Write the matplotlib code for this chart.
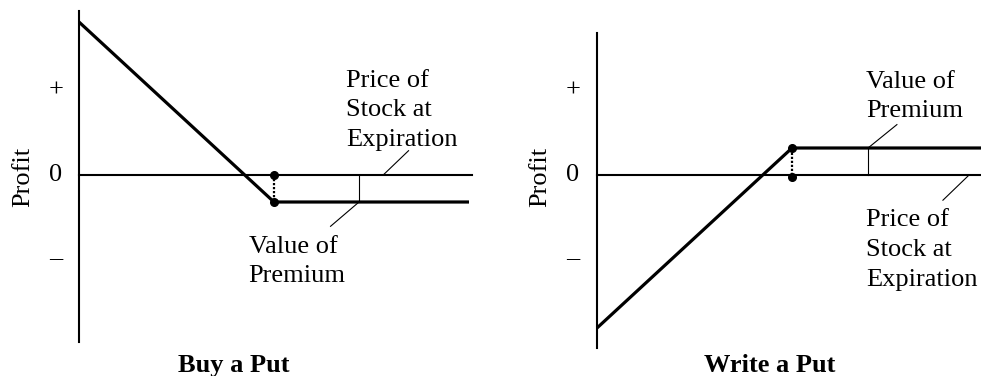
import numpy as np
import matplotlib.pyplot as plt

plt.rcParams['font.family'] = ['Liberation Serif', 'DejaVu Serif']

# stock price at expiration (arbitrary units), strike, premium
price = [0, 10, 20]
strike = 10
premium = 1.5
buy_profit = [strike - premium - p if p < strike else -premium for p in price]
write_profit = [-b for b in buy_profit]

tick_pos = [4.7, 0, -4.6]
tick_txt = ['+', '0', '\u2013']

fig = plt.figure(figsize=(9.81, 3.76), dpi=100)

# pixel -> data mapping: 19.5 px per x unit, 18 px per y unit
sx, sy = 19.5, 18.0
y0 = 175


def make_ax(x_origin):
    ax = fig.add_axes([0, 0, 1, 1])
    ax.set_xlim((0 - x_origin) / sx, (981 - x_origin) / sx)
    ax.set_ylim((y0 - 376) / sy, (y0 - 0) / sy)
    ax.axis('off')
    ax.patch.set_alpha(0)
    return ax


fs = 19
ls_txt = 1.45
lw_axis = 1.5
lw_pay = 2.3

# ---- Buy a Put
ax = make_ax(79)
ax.plot([0, 0], [-9.3, 9.1], color='black', lw=lw_axis)
ax.plot([0, 20.15], [0, 0], color='black', lw=lw_axis)
ax.plot(price, buy_profit, color='black', lw=lw_pay, solid_capstyle='butt')
ax.plot([strike, strike], [0, -premium], color='black', lw=1.6, ls=(0, (1, 0.8)))
ax.plot([strike, strike], [0, -premium], 'o', color='black', ms=5.5)
ax.plot([14.36, 14.36], [0, -premium], color='black', lw=0.8)
ax.plot([15.6, 16.9], [0, 1.35], color='black', lw=0.8)
ax.plot([14.36, 12.9], [-premium, -2.85], color='black', lw=0.8)
ax.text(13.7, 3.6, 'Price of\nStock at\nExpiration', fontsize=fs, va='center',
        ha='left', linespacing=ls_txt)
ax.text(8.7, -4.8, 'Value of\nPremium', fontsize=fs, va='center', ha='left',
        linespacing=ls_txt)
for t, s in zip(tick_pos, tick_txt):
    ax.text(-1.18, t, s, fontsize=fs, ha='center', va='center')
ax.text(-2.85, -0.1, 'Profit', fontsize=fs, rotation=90, ha='center', va='center')
ax.text(7.95, -10.6, 'Buy a Put', fontsize=fs, fontweight='bold', ha='center',
        va='center')

# ---- Write a Put
ax = make_ax(597)
ax.plot([0, 0], [-9.6, 7.9], color='black', lw=lw_axis)
ax.plot([0, 20], [0, 0], color='black', lw=lw_axis)
ax.plot(price, write_profit, color='black', lw=lw_pay, solid_capstyle='butt')
ax.plot([strike, strike], [0, premium], color='black', lw=1.6, ls=(0, (1, 0.8)))
ax.plot([strike, strike], [-0.1, premium], 'o', color='black', ms=5.5)
ax.plot([13.9, 13.9], [0, premium], color='black', lw=0.8)
ax.plot([13.9, 15.38], [premium, 2.8], color='black', lw=0.8)
ax.plot([19.08, 17.74], [0, -1.4], color='black', lw=0.8)
ax.text(13.8, 4.36, 'Value of\nPremium', fontsize=fs, va='center', ha='left',
        linespacing=ls_txt)
ax.text(13.8, -4.17, 'Price of\nStock at\nExpiration', fontsize=fs, va='center',
        ha='left', linespacing=ls_txt)
for t, s in zip(tick_pos, tick_txt):
    ax.text(-1.23, t, s, fontsize=fs, ha='center', va='center')
ax.text(-2.9, -0.1, 'Profit', fontsize=fs, rotation=90, ha='center', va='center')
ax.text(8.87, -10.6, 'Write a Put', fontsize=fs, fontweight='bold', ha='center',
        va='center')

fig.savefig('out.png', dpi=100)
